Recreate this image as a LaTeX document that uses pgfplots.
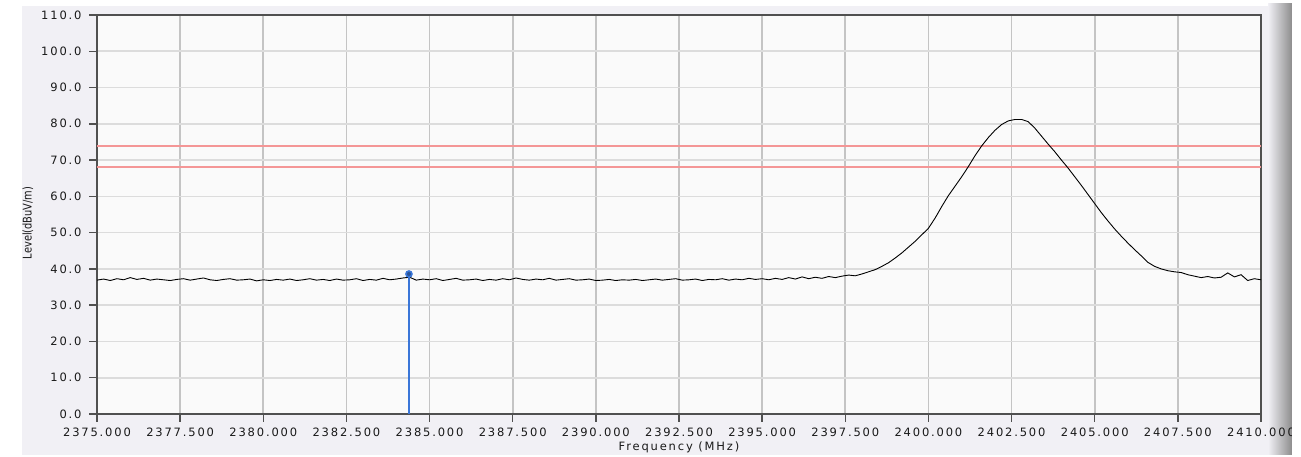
\documentclass[border=0pt]{standalone}
\usepackage{fontspec}
\setmainfont{DejaVu Sans}
\newfontfamily\tickfont[LetterSpace=16]{DejaVu Sans}
\usepackage{pgfplots}
\usepackage{pgfplotstable}
\pgfplotsset{compat=1.18}
\definecolor{panelbg}{HTML}{F1F0F5}
\definecolor{plotbg}{HTML}{FAFAFA}
\definecolor{vgrid}{HTML}{C4C4C4}
\definecolor{hgrid}{HTML}{DCDCDC}
\definecolor{limitred}{RGB}{244,150,150}
\definecolor{mkblue}{RGB}{58,118,216}
\definecolor{framecol}{HTML}{505050}
\pgfplotstableread{
x y
2375.0 36.9
2375.2 37.2
2375.4 36.8
2375.6 37.3
2375.8 37.0
2376.0 37.6
2376.2 37.1
2376.4 37.4
2376.6 36.9
2376.8 37.2
2377.0 37.0
2377.2 36.8
2377.4 37.1
2377.6 37.3
2377.8 36.9
2378.0 37.2
2378.2 37.5
2378.4 37.0
2378.6 36.8
2378.8 37.1
2379.0 37.3
2379.2 36.9
2379.4 37.0
2379.6 37.2
2379.8 36.7
2380.0 37.0
2380.2 36.8
2380.4 37.1
2380.6 36.9
2380.8 37.2
2381.0 36.8
2381.2 37.0
2381.4 37.3
2381.6 36.9
2381.8 37.1
2382.0 36.8
2382.2 37.2
2382.4 36.9
2382.6 37.0
2382.8 37.3
2383.0 36.8
2383.2 37.1
2383.4 36.9
2383.6 37.4
2383.8 37.0
2384.0 37.2
2384.2 37.5
2384.4 37.7
2384.6 36.9
2384.8 37.2
2385.0 37.0
2385.2 37.3
2385.4 36.8
2385.6 37.1
2385.8 37.4
2386.0 36.9
2386.2 37.0
2386.4 37.2
2386.6 36.8
2386.8 37.1
2387.0 36.9
2387.2 37.3
2387.4 37.0
2387.6 37.5
2387.8 37.1
2388.0 36.9
2388.2 37.2
2388.4 37.0
2388.6 37.4
2388.8 36.9
2389.0 37.1
2389.2 37.3
2389.4 36.9
2389.6 37.0
2389.8 37.2
2390.0 36.8
2390.2 36.9
2390.4 37.1
2390.6 36.8
2390.8 37.0
2391.0 36.9
2391.2 37.1
2391.4 36.8
2391.6 37.0
2391.8 37.2
2392.0 36.9
2392.2 37.1
2392.4 37.3
2392.6 36.9
2392.8 37.0
2393.0 37.2
2393.2 36.8
2393.4 37.1
2393.6 37.0
2393.8 37.3
2394.0 36.9
2394.2 37.2
2394.4 37.0
2394.6 37.4
2394.8 37.1
2395.0 37.3
2395.2 37.0
2395.4 37.4
2395.6 37.1
2395.8 37.6
2396.0 37.2
2396.2 37.8
2396.4 37.3
2396.6 37.7
2396.8 37.4
2397.0 37.9
2397.2 37.6
2397.4 38.0
2397.6 38.3
2397.8 38.1
2398.0 38.6
2398.2 39.2
2398.4 39.8
2398.6 40.7
2398.8 41.7
2399.0 43.0
2399.2 44.4
2399.4 46.0
2399.6 47.6
2399.8 49.4
2400.0 51.2
2400.2 54.0
2400.4 57.2
2400.6 60.2
2400.8 62.8
2401.0 65.4
2401.2 68.2
2401.4 71.2
2401.6 73.9
2401.8 76.2
2402.0 78.2
2402.2 79.8
2402.4 80.8
2402.6 81.2
2402.8 81.2
2403.0 80.6
2403.2 78.8
2403.4 76.6
2403.6 74.4
2403.8 72.3
2404.0 70.0
2404.2 67.8
2404.4 65.4
2404.6 63.0
2404.8 60.5
2405.0 58.0
2405.2 55.5
2405.4 53.2
2405.6 51.0
2405.8 49.0
2406.0 47.1
2406.2 45.3
2406.4 43.6
2406.6 41.8
2406.8 40.7
2407.0 40.0
2407.2 39.5
2407.4 39.2
2407.6 39.0
2407.8 38.4
2408.0 38.0
2408.2 37.6
2408.4 37.9
2408.6 37.5
2408.8 37.7
2409.0 38.9
2409.2 37.8
2409.4 38.4
2409.6 36.8
2409.8 37.3
2410.0 37.0
}\trace
\begin{document}
\begin{tikzpicture}[x=1pt,y=1pt]
\useasboundingbox (0,0) rectangle (1301,457);
\fill[white] (0,0) rectangle (1301,457);
\fill[panelbg] (22,2) rectangle (1268,451);
\shade[left color=panelbg, right color=black!45] (1268,2) rectangle (1292,453);
\begin{axis}[
  at={(97pt,43pt)}, anchor=south west,
  scale only axis, width=1164pt, height=399pt,
  xmin=2375, xmax=2410, ymin=0, ymax=110,
  xtick={2375,2377.5,...,2410},
  xticklabels={2375.000,2377.500,2380.000,2382.500,2385.000,2387.500,2390.000,2392.500,2395.000,2397.500,2400.000,2402.500,2405.000,2407.500,2410.000},
  ytick={0,10,...,110},
  yticklabels={0.0,10.0,20.0,30.0,40.0,50.0,60.0,70.0,80.0,90.0,100.0,110.0},
  xtick pos=left, ytick pos=left,
  tick align=outside, major tick length=8pt,
  tick style={framecol, line width=1.4pt},
  ticklabel style={font=\tickfont\fontsize{11.5}{13}\selectfont, text=black!90},
  xticklabel style={yshift=-2pt},
  yticklabel style={xshift=-4pt},
  axis background/.style={fill=plotbg},
  grid=major,
  x grid style={vgrid, line width=1.6pt},
  y grid style={hgrid, line width=1.6pt},
  axis line style={framecol, line width=1.2pt},
  xlabel={Frequency (MHz)},
  xlabel style={font=\tickfont\fontsize{11.5}{13}\selectfont, text=black!90, yshift=1pt},
  ylabel={\scalebox{0.82}[1]{\fontsize{12}{14}\selectfont Level(dBuV/m)}},
  ylabel style={at={(axis description cs:-0.0593,0.479)}, anchor=center, text=black!90},
  clip=true,
]
\addplot[draw=limitred, line width=2.1pt, mark=none] coordinates {(2375,74) (2410,74)};
\addplot[draw=limitred, line width=2.1pt, mark=none] coordinates {(2375,68) (2410,68)};
\addplot[draw=black, line width=0.9pt, mark=none] table[x=x,y=y] {\trace};
\addplot[draw=mkblue, line width=1.8pt, mark=none] coordinates {(2384.38,0) (2384.38,38.6)};
\addplot[color=mkblue, only marks, mark=*, mark size=3pt, mark options={fill=mkblue!70!black, draw=mkblue, line width=1.6pt}] coordinates {(2384.38,38.6)};
\end{axis}
\fill[white] (1292,0) rectangle (1301,457);
\end{tikzpicture}
\end{document}
